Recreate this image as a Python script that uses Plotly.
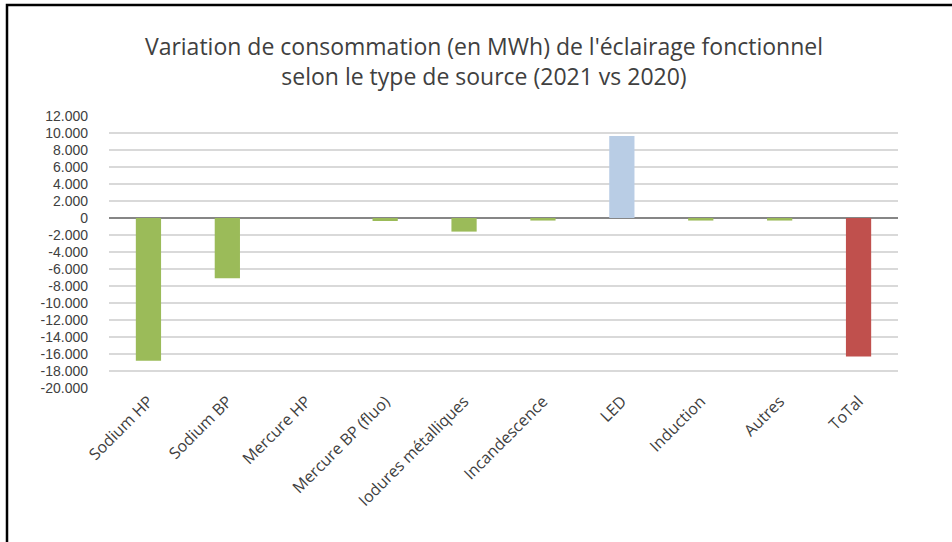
import plotly.graph_objects as go

# --- data ---
categories = ["Sodium HP", "Sodium BP", "Mercure HP", "Mercure BP (fluo)",
              "Iodures métalliques", "Incandescence", "LED", "Induction",
              "Autres", "ToTal"]
variation_mwh = [-16800, -7100, 0, -350, -1600, -300, 9650, -300, -300, -16300]
bar_colors = ["#9BBB59"] * 6 + ["#B9CDE5"] + ["#9BBB59"] * 2 + ["#C0504D"]

tick_vals = list(range(-20000, 12001, 2000))
tick_text = [f"{v:,}".replace(",", ".") for v in tick_vals]

W, H = 952, 542
L, R, T, B = 109, 54, 116, 154
pw, ph = W - L - R, H - T - B

fig = go.Figure()
fig.add_trace(go.Bar(
    x=categories,
    y=variation_mwh,
    marker=dict(color=bar_colors, line=dict(width=0)),
    width=0.32,
    showlegend=False,
))

fig.update_xaxes(
    showgrid=False,
    showline=False,
    ticks="",
    tickangle=-45,
    tickfont=dict(family="Open Sans", size=16, color="#404040"),
)
fig.update_yaxes(
    range=[-20000, 12000],
    tickvals=tick_vals,
    ticktext=tick_text,
    tickfont=dict(family="Liberation Sans", size=14, color="#404040"),
    gridcolor="#D9D9D9",
    gridwidth=1.5,
    zeroline=True,
    zerolinecolor="#868686",
    zerolinewidth=2,
    ticklabelstandoff=20,
)

# black frame around the chart, running off the right and bottom edges
fig.add_shape(
    type="rect", xref="paper", yref="paper", layer="above",
    x0=(7 - L) / pw, x1=(W + 20 - L) / pw,
    y0=(T + ph - (H + 20)) / ph, y1=(T + ph - 5) / ph,
    line=dict(color="black", width=2.5),
)

fig.update_layout(
    width=W,
    height=H,
    margin=dict(l=L, r=R, t=T, b=B),
    paper_bgcolor="white",
    plot_bgcolor="white",
    font=dict(family="Open Sans, Liberation Sans, sans-serif", color="#404040"),
    title=dict(
        text="Variation de consommation (en MWh) de l'éclairage fonctionnel<br>"
             "selon le type de source (2021 vs 2020)",
        x=484 / W,
        xanchor="center",
        y=1 - 55 / H,
        yanchor="middle",
        font=dict(size=23, color="#404040"),
    ),
    bargap=0.68,
)

fig.write_html("out.html", config={"displayModeBar": False},
               post_script="document.body.style.margin='0px';")
